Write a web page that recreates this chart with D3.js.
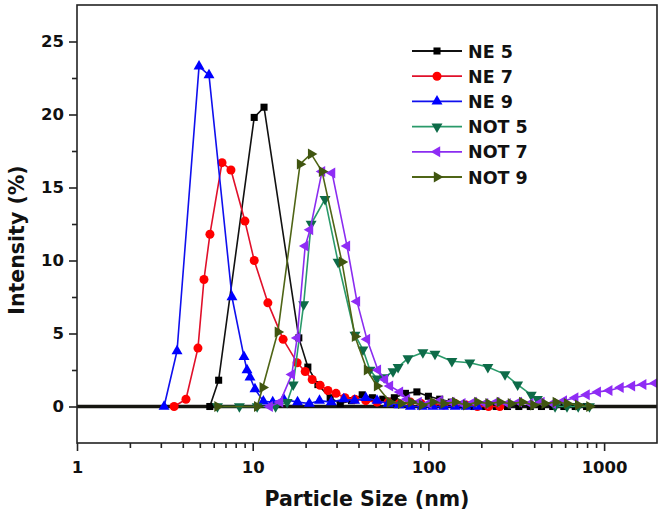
<!DOCTYPE html>
<html><head><meta charset="utf-8">
<script src="https://cdn.jsdelivr.net/npm/d3@7/dist/d3.min.js"></script>
<style>
html,body{margin:0;padding:0;background:#fff;}
svg{display:block;}
text{font-family:"DejaVu Sans",sans-serif;font-weight:bold;fill:#111;}
</style></head>
<body><svg id="chart" width="661" height="520"></svg>
<script>
// ---------- data ----------
const seriesNames = ["NE 5","NE 7","NE 9","NOT 5","NOT 7","NOT 9"];

const ne5X = [5.7,6.4,10.2,11.6,18.3,20.6,23.5,27.6,31.5,36.5,42,48,55,64,74,86,100,116,135,156,181,210,243,282,327,380,440,510,590,685,795];
const ne5Y = [0,1.8,19.8,20.5,4.7,2.7,1.5,0.6,0.2,0.4,0.8,0.6,0.5,0.6,0.9,1.0,0.7,0.5,0.3,0.1,0,0,0,0,0,0,0,0,0,0,0];

const ne7X = [3.57,4.17,4.88,5.28,5.71,6.69,7.52,9.03,10.2,12.2,14.9,17.9,19.9,21.8,24.2,26.8,29.8,33.5,38.2,44,51,59,68,79,91,106,122,142,164,190,220,255];
const ne7Y = [0,0.5,4.0,8.7,11.8,16.7,16.2,12.7,10.0,7.1,4.6,3.0,2.4,1.85,1.45,1.1,0.9,0.6,0.5,0.4,0.3,0.3,0.2,0.3,0.2,0.2,0.1,0.2,0.1,0,0,0];

const ne9X = [3.13,3.71,4.95,5.64,7.62,8.92,9.28,9.65,10.3,11.5,13,15,18,21,24,28,33,38,44,51,59,68,79,92,106,122,142,164,190];
const ne9Y = [0,3.8,23.3,22.7,7.5,3.4,2.5,2.0,1.2,0.35,0.3,0.5,0.3,0.2,0.4,0.3,0.5,0.4,0.6,0.4,0.2,0.1,0,0,0,0,0,0,0];

const not5X = [6.3,8.4,10.6,13.5,15.7,17,19.5,21.5,25.8,30.6,38.2,42.4,46.5,51,56,62.9,67.2,76.5,93,109,136,172,218,273,322,385,417,526,615,712,825];
const not5Y = [0,0,0,0,0.3,1.5,7,12.5,14.2,9.9,4.9,3.9,2.5,1.9,2.0,2.4,2.7,3.3,3.7,3.6,3.1,3.0,2.7,2.2,1.5,0.8,0.5,0,0,0,0];

const not7X = [12.5,14.3,16.7,17.9,19.9,21.2,24.8,28.3,34.4,39.2,44.7,51.6,56.6,60.4,68.9,75.5,88,100,116,135,156,181,210,243,282,327,380,440,510,590,685,795,920,1070,1240,1440,1670,1950];
const not7Y = [0,0.3,2.2,4.7,11.0,12.1,16.1,16.0,11.0,7.2,4.6,2.5,1.85,1.4,1.0,0.5,0.3,0.2,0.4,0.3,0.2,0.3,0.2,0.3,0.2,0.3,0.2,0.3,0.2,0.4,0.6,0.8,1.0,1.1,1.3,1.4,1.5,1.6];

const not9X = [6.3,10.6,11.4,13.9,18.6,21.5,24.8,32.2,38.2,44.7,51,60.4,70,80,92,106,122,142,164,190,220,255,295,342,396,459,531,615,712,825];
const not9Y = [0,0,1.3,5.1,16.6,17.3,16.1,9.9,4.8,2.5,1.4,0.3,0.2,0.3,0.1,0.3,0.2,0.3,0.1,0.3,0.2,0.3,0.2,0.3,0.1,0.2,0.3,0.2,0.1,0];

const xDomain = [1, 2000];
const yDomain = [-2.5, 27.5];
const xMajorTicks = [1, 10, 100, 1000];
const xMinorTicks = [2,3,4,5,6,7,8,9,20,30,40,50,60,70,80,90,200,300,400,500,600,700,800,900];
const yMajorTicks = [0, 5, 10, 15, 20, 25];
const yMinorTicks = [2.5, 7.5, 12.5, 17.5, 22.5];
const xTitle = "Particle Size (nm)";
const yTitle = "Intensity (%)";

// ---------- styling ----------
const styles = [
  {line:"#111111", fill:"#000000", sym:d3.symbolSquare, size:50, rot:0},
  {line:"#e0102a", fill:"#ff0000", sym:d3.symbolCircle, size:64, rot:0},
  {line:"#1010ee", fill:"#0000ff", sym:d3.symbolTriangle, size:52, rot:0},
  {line:"#2a9a6a", fill:"#0d6b48", sym:d3.symbolTriangle, size:52, rot:180},
  {line:"#8a2cf0", fill:"#8f2cf5", sym:d3.symbolTriangle, size:52, rot:-90},
  {line:"#4f6516", fill:"#405510", sym:d3.symbolTriangle, size:52, rot:90}
];
const xs = [ne5X, ne7X, ne9X, not5X, not7X, not9X];
const ys = [ne5Y, ne7Y, ne9Y, not5Y, not7Y, not9Y];
const series = seriesNames.map((n,i)=>({name:n, pts:xs[i].map((x,j)=>({x, y:ys[i][j]})), st:styles[i]}));

const m = {left:77, right:657, top:5, bottom:443};
const svg = d3.select("#chart");
const x = d3.scaleLog().domain(xDomain).range([m.left, m.right]);
const y = d3.scaleLinear().domain(yDomain).range([m.bottom, m.top]);

// zero line
svg.append("line").attr("x1", x(xDomain[0])).attr("x2", x(xDomain[1]))
  .attr("y1", y(0)).attr("y2", y(0)).attr("stroke","#151510").attr("stroke-width",3.5);

svg.append("clipPath").attr("id","clip").append("rect")
  .attr("x", m.left).attr("y", m.top).attr("width", m.right-m.left).attr("height", m.bottom-m.top);

const plot = svg.append("g").attr("clip-path","url(#clip)");
const line = d3.line().x(d=>x(d.x)).y(d=>y(d.y));
series.forEach(s=>{
  const g = plot.append("g");
  g.append("path").attr("d", line(s.pts)).attr("fill","none")
    .attr("stroke", s.st.line).attr("stroke-width",1.6).attr("stroke-linejoin","round");
  g.selectAll("path.m").data(s.pts).join("path").attr("class","m")
    .attr("d", d3.symbol().type(s.st.sym).size(s.st.size))
    .attr("transform", d=>`translate(${x(d.x)},${y(d.y)}) rotate(${s.st.rot})`)
    .attr("fill", s.st.fill);
});

// axes
const axG = svg.append("g");
axG.append("g").attr("transform",`translate(0,${m.bottom})`)
  .call(d3.axisBottom(x).tickValues(xMajorTicks).tickSize(8).tickPadding(10).tickFormat(d3.format("d")));
axG.append("g").attr("transform",`translate(0,${m.bottom})`)
  .call(d3.axisBottom(x).tickValues(xMinorTicks).tickSize(5).tickFormat(""));
axG.append("g").attr("transform",`translate(${m.left},0)`)
  .call(d3.axisLeft(y).tickValues(yMajorTicks).tickSize(8).tickPadding(5).tickFormat(d3.format("d")));
axG.append("g").attr("transform",`translate(${m.left},0)`)
  .call(d3.axisLeft(y).tickValues(yMinorTicks).tickSize(5).tickFormat(""));
axG.selectAll(".domain").remove();
axG.selectAll(".tick line").attr("stroke","#222").attr("stroke-width",1.6);
axG.selectAll(".tick text").attr("font-size",16.5).attr("font-family","DejaVu Sans, sans-serif").attr("font-weight","bold").attr("fill","#111");

// frame
svg.append("rect").attr("x", m.left).attr("y", m.top).attr("width", m.right-m.left).attr("height", m.bottom-m.top)
  .attr("fill","none").attr("stroke","#222").attr("stroke-width",1.6);

// titles
svg.append("text").attr("x",(m.left+m.right)/2).attr("y",506).attr("text-anchor","middle")
  .attr("font-size",20.5).text(xTitle);
svg.append("text").attr("transform",`translate(24,240) rotate(-90)`).attr("text-anchor","middle")
  .attr("font-size",20.5).text(yTitle);

// legend
const lg = svg.append("g");
series.forEach((s,i)=>{
  const yy = 51 + i*25.2;
  lg.append("line").attr("x1",412).attr("x2",462).attr("y1",yy).attr("y2",yy)
    .attr("stroke",s.st.line).attr("stroke-width",1.8);
  lg.append("path").attr("d", d3.symbol().type(s.st.sym).size(s.st.size)())
    .attr("transform",`translate(437,${yy}) rotate(${s.st.rot})`).attr("fill",s.st.fill);
  lg.append("text").attr("x",468).attr("y",yy+6.5).attr("font-size",17.5).text(s.name);
});
</script></body></html>
